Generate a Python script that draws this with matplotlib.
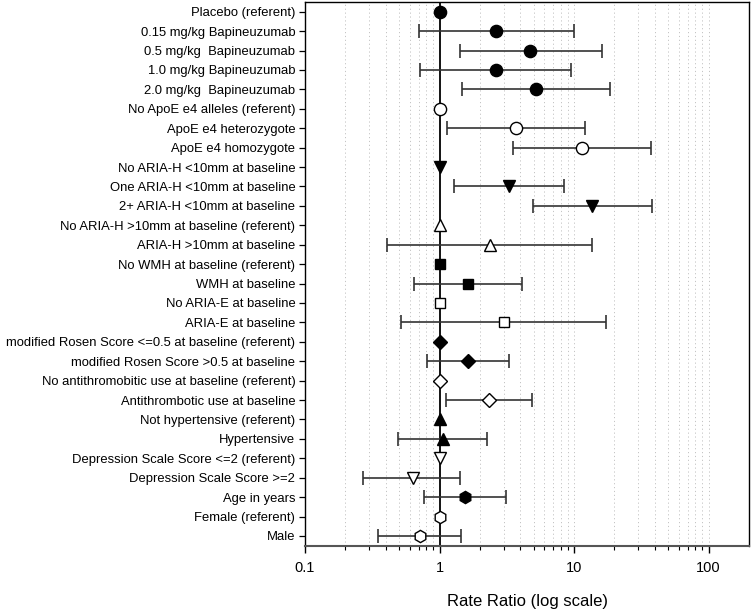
import numpy as np
import matplotlib
matplotlib.use("Agg")
import matplotlib.pyplot as plt
from matplotlib.ticker import FixedLocator, NullFormatter

plt.rcParams['font.family'] = ['Liberation Sans', 'DejaVu Sans']

labels = [
    "Placebo (referent)",
    "0.15 mg/kg Bapineuzumab",
    "0.5 mg/kg  Bapineuzumab",
    "1.0 mg/kg Bapineuzumab",
    "2.0 mg/kg  Bapineuzumab",
    "No ApoE e4 alleles (referent)",
    "ApoE e4 heterozygote",
    "ApoE e4 homozygote",
    "No ARIA-H <10mm at baseline",
    "One ARIA-H <10mm at baseline",
    "2+ ARIA-H <10mm at baseline",
    "No ARIA-H >10mm at baseline (referent)",
    "ARIA-H >10mm at baseline",
    "No WMH at baseline (referent)",
    "WMH at baseline",
    "No ARIA-E at baseline",
    "ARIA-E at baseline",
    "modified Rosen Score <=0.5 at baseline (referent)",
    "modified Rosen Score >0.5 at baseline",
    "No antithromobitic use at baseline (referent)",
    "Antithrombotic use at baseline",
    "Not hypertensive (referent)",
    "Hypertensive",
    "Depression Scale Score <=2 (referent)",
    "Depression Scale Score >=2",
    "Age in years",
    "Female (referent)",
    "Male",
]

# rate ratio and 95% CI (None = referent, no interval)
rr = [1, 2.64, 4.74, 2.62, 5.22, 1, 3.71, 11.5, 1, 3.31, 13.7, 1, 2.37, 1, 1.63,
      1, 3.02, 1, 1.63, 1, 2.35, 1, 1.06, 1, 0.63, 1.54, 1, 0.71]
ci_low = [None, 0.70, 1.41, 0.71, 1.47, None, 1.14, 3.51, None, 1.29, 4.93, None, 0.41,
          None, 0.65, None, 0.52, None, 0.81, None, 1.11, None, 0.49, None, 0.27, 0.77,
          None, 0.35]
ci_high = [None, 9.95, 16.2, 9.5, 18.4, None, 12.1, 37.5, None, 8.47, 38.1, None, 13.7,
           None, 4.11, None, 17.4, None, 3.29, None, 4.9, None, 2.27, None, 1.43, 3.11,
           None, 1.44]

markers = ['o'] * 5 + ['o'] * 3 + ['v'] * 3 + ['^'] * 2 + ['s'] * 2 + ['s'] * 2 + \
          ['D'] * 2 + ['D'] * 2 + ['^'] * 2 + ['v'] * 2 + ['h'] + ['h'] * 2
filled = [True] * 5 + [False] * 3 + [True] * 3 + [False] * 2 + [True] * 2 + [False] * 2 + \
         [True] * 2 + [False] * 2 + [True] * 2 + [False] * 2 + [True] + [False] * 2

fig = plt.figure(figsize=(7.52, 6.11), dpi=100)
ax = fig.add_axes([0.4056, 0.1069, 0.5904, 0.8898])

n = len(labels)
ypos = np.arange(n)

# grid lines at minor positions and decades
grid_x = []
for dec in [0.1, 1, 10]:
    for k in range(2, 10):
        grid_x.append(k * dec)
grid_x += [10, 100]
for gx in grid_x:
    ax.axvline(gx, color='#c4c4c4', lw=0.7, ls=(0, (1.2, 2.8)), zorder=0)

ax.axvline(1, color='black', lw=1.3, zorder=1)

sizes = {'o': 8.8, 'h': 8.8, 'v': 8.5, '^': 8.5, 's': 7.5, 'D': 7.0}
for i in range(n):
    if ci_low[i] is not None:
        ax.errorbar(rr[i], ypos[i], xerr=[[rr[i] - ci_low[i]], [ci_high[i] - rr[i]]],
                    fmt='none', ecolor='#333333', elinewidth=1.2, capsize=5,
                    capthick=1.2, zorder=2)
    ax.plot(rr[i], ypos[i], marker=markers[i], ms=sizes[markers[i]],
            mfc='black' if filled[i] else 'white', mec='black', mew=1.0,
            ls='none', zorder=3)

ax.set_xscale('log')
ax.set_xlim(0.1, 200)
ax.set_ylim(n - 0.5, -0.5)

ax.set_yticks(ypos)
ax.set_yticklabels(labels, fontsize=9.35)
ax.tick_params(axis='y', length=4, width=0.9, pad=3)

ax.xaxis.set_major_locator(FixedLocator([0.1, 1, 10, 100]))
ax.set_xticklabels(["0.1", "1", "10", "100"])
minor = [k * d for d in [0.1, 1, 10] for k in range(2, 10)]
ax.xaxis.set_minor_locator(FixedLocator(minor))
ax.xaxis.set_minor_formatter(NullFormatter())
ax.tick_params(axis='x', which='major', length=5, width=1.0, labelsize=10.5, pad=6)
ax.tick_params(axis='x', which='minor', length=3, width=0.8)

for s in ['top', 'right', 'left']:
    ax.spines[s].set_color('black')
    ax.spines[s].set_linewidth(1.0)
ax.spines['bottom'].set_color('#555555')
ax.spines['bottom'].set_linewidth(1.5)

ax.set_xlabel("Rate Ratio (log scale)", fontsize=12, labelpad=14)

fig.savefig("out.png", dpi=100)
